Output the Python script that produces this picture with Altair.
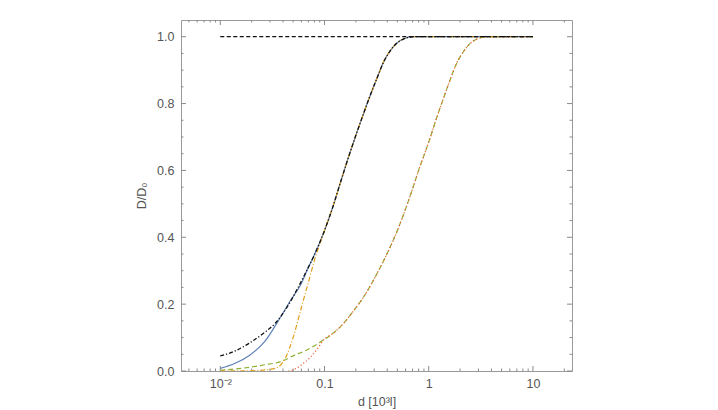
import altair as alt
import pandas as pd

# ---- data ----
black_x = [0.01, 0.0139, 0.0187, 0.026, 0.0337, 0.0436, 0.0543, 0.0650, 0.0785, 0.1, 0.12, 0.141, 0.164, 0.2, 0.237, 0.275, 0.318, 0.37, 0.427, 0.5, 0.572, 0.713, 1.0, 3.0, 10.0]
black_y = [0.045, 0.06, 0.082, 0.113, 0.143, 0.19, 0.243, 0.29, 0.342, 0.42, 0.49, 0.56, 0.625, 0.705, 0.77, 0.825, 0.875, 0.925, 0.958, 0.982, 0.993, 1.0, 1.0, 1.0, 1.0]

blue_x = [0.01, 0.0139, 0.0187, 0.027, 0.036, 0.047, 0.06, 0.07]
blue_y = [0.008, 0.023, 0.045, 0.09, 0.15, 0.21, 0.262, 0.31]

yellow_x = [0.01, 0.02, 0.03, 0.036, 0.042, 0.05, 0.06, 0.07, 0.08]
yellow_y = [0.0, 0.001, 0.005, 0.012, 0.038, 0.1, 0.19, 0.265, 0.33]

green_x = [0.01, 0.018, 0.026, 0.038, 0.054, 0.0607, 0.0785]
green_y = [0.002, 0.01, 0.018, 0.028, 0.05, 0.056, 0.074]

red_x = [0.045, 0.05, 0.058, 0.066, 0.074, 0.085]
red_y = [0.0, 0.003, 0.015, 0.028, 0.043, 0.065]

right_x = [0.098, 0.12, 0.15, 0.19, 0.23, 0.27, 0.33, 0.39, 0.5, 0.6, 0.7, 0.8, 1.0, 1.2, 1.4, 1.6, 1.85, 2.15, 2.5, 2.9, 3.6, 10.0]
right_y = [0.093, 0.112, 0.14, 0.18, 0.215, 0.25, 0.30, 0.345, 0.42, 0.485, 0.545, 0.6, 0.685, 0.76, 0.82, 0.87, 0.92, 0.955, 0.98, 0.993, 1.0, 1.0]

one_x = [0.01, 10.0]
one_y = [1.0, 1.0]

x_major = [0.01, 0.1, 1, 10]
x_labels = ["10⁻²", "0.1", "1", "10"]
x_minor = [0.005, 0.006, 0.007, 0.008, 0.009] + \
    [m * 10.0 ** e for e in (-2, -1, 0, 1) for m in range(2, 10) if m * 10.0 ** e < 23]
y_major = [0.0, 0.2, 0.4, 0.6, 0.8, 1.0]
y_minor = [0.05, 0.1, 0.15, 0.25, 0.3, 0.35, 0.45, 0.5, 0.55, 0.65, 0.7, 0.75, 0.85, 0.9, 0.95]

W, H = 391, 351
FONT = "Liberation Sans"
TXT = "#555555"
TICK = "#8a8a8a"

xscale = alt.Scale(type="log", domain=[0.0042, 23.7], nice=False)
yscale = alt.Scale(domain=[0, 1.05], nice=False, zero=False)


def df(xs, ys):
    return pd.DataFrame({"d": xs, "v": ys})


def after(xs, ys, start):
    return [x for x in xs if x > start], [y for x, y in zip(xs, ys) if x > start]


bx, by = after(black_x, black_y, blue_x[-1])
blue_df = df(blue_x + bx, blue_y + by)
bx2, by2 = after(black_x, black_y, yellow_x[-1])
yellow_df = df(yellow_x + bx2, yellow_y + by2)
green_df = df(green_x + right_x, green_y + right_y)
red_df = df(red_x + right_x, red_y + right_y)
black_df = df(black_x, black_y)
one_df = df(one_x, one_y)

lab_expr = " : ".join(
    f"datum.value == {v} ? '{l}'" for v, l in zip(x_major, x_labels)
) + " : ''"

X = alt.X("d:Q", scale=xscale,
          axis=alt.Axis(values=x_major, labelExpr=lab_expr, title="d [10³l]",
                        grid=False, ticks=False, domain=False, labelPadding=6,
                        titlePadding=6))
Y = alt.Y("v:Q", scale=yscale,
          axis=alt.Axis(values=y_major, format=".1f", title="D/D₀", grid=False,
                        ticks=False, domain=False, labelPadding=7, titlePadding=8))


def line(data, color, dash=None, width=1.2, axes=False):
    kw = dict(color=color, strokeWidth=width, clip=True, interpolate="monotone")
    if dash:
        kw["strokeDash"] = dash
    m = alt.Chart(data).mark_line(**kw)
    if axes:
        return m.encode(x=X, y=Y)
    return m.encode(x=alt.X("d:Q", scale=xscale), y=alt.Y("v:Q", scale=yscale))


layers = [
    line(blue_df, "#5E81B5", axes=True),
    line(green_df, "#8FB032", [5, 3]),
    line(red_df, "#EB6235", [1.2, 2.2]),
    line(yellow_df, "#E0A020", [5, 2, 1, 2]),
    line(black_df, "#111111", [4, 2, 1.2, 2], 1.3),
    line(one_df, "#111111", [4, 2.5], 1.2),
]


def xticks(vals, length):
    d = pd.DataFrame({"t": vals})
    base = alt.Chart(d).mark_rule(color=TICK, strokeWidth=1)
    bot = base.encode(x=alt.X("t:Q", scale=xscale), y=alt.value(H), y2=alt.value(H - length))
    top = base.encode(x=alt.X("t:Q", scale=xscale), y=alt.value(0), y2=alt.value(length))
    return [bot, top]


def yticks(vals, length):
    d = pd.DataFrame({"t": vals})
    base = alt.Chart(d).mark_rule(color=TICK, strokeWidth=1)
    left = base.encode(y=alt.Y("t:Q", scale=yscale), x=alt.value(0), x2=alt.value(length))
    right = base.encode(y=alt.Y("t:Q", scale=yscale), x=alt.value(W), x2=alt.value(W - length))
    return [left, right]


ticks = xticks(x_major, 5) + xticks(x_minor, 2.5) + yticks(y_major, 5) + yticks(y_minor, 2.5)

chart = alt.layer(*ticks, *layers).properties(
    width=W, height=H,
    autosize=alt.AutoSizeParams(type="none"),
    padding={"left": 181, "top": 20, "right": 146, "bottom": 39},
).configure_view(
    stroke="#999999", strokeWidth=1
).configure_axis(
    labelFont=FONT, titleFont=FONT, labelFontSize=12.5, titleFontSize=12.5,
    labelColor=TXT, titleColor=TXT, titleFontWeight="normal"
)

chart.save("out.html", embed_options={"renderer": "svg", "actions": False})
